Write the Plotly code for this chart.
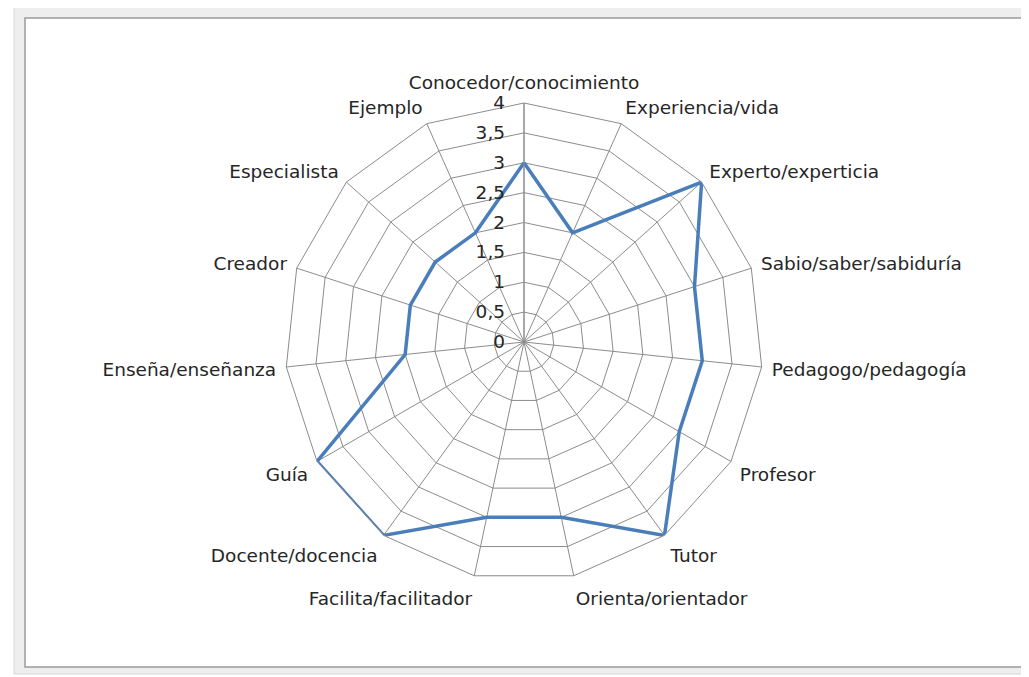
import plotly.graph_objects as go

W, H = 1029, 677
OFF = 8  # browser body margin shifts the whole figure by this many pixels

categories = [
    "Conocedor/conocimiento", "Experiencia/vida", "Experto/experticia",
    "Sabio/saber/sabiduría", "Pedagogo/pedagogía", "Profesor", "Tutor",
    "Orienta/orientador", "Facilita/facilitador", "Docente/docencia", "Guía",
    "Enseña/enseñanza", "Creador", "Especialista", "Ejemplo",
]
values = [3, 2, 4, 3, 3, 3, 4, 3, 3, 4, 4, 2, 2, 2, 2]

radial_ticks = [0, 0.5, 1, 1.5, 2, 2.5, 3, 3.5, 4]
radial_labels = ["0", "0,5", "1", "1,5", "2", "2,5", "3", "3,5", "4"]

LINE = "#4a7ebb"
GRID = "#8c8c8c"
FONT = dict(family="DejaVu Sans, sans-serif", size=18.5, color="#262626")

# polar centre / outer radius in page pixels
cx, cy, R = 524 - OFF, 342 - OFF, 239


def px(x):
    return (x - OFF) / W


def py(y):
    return 1 - (y - OFF) / H


fig = go.Figure()
fig.add_trace(go.Scatterpolar(
    r=values + values[:1],
    theta=categories + categories[:1],
    mode="lines",
    line=dict(color=LINE, width=3.5),
    showlegend=False,
))

# Excel-style chart frame
fig.add_shape(type="rect", xref="paper", yref="paper", layer="below",
              x0=px(14), x1=px(1040), y0=py(674), y1=py(6),
              fillcolor="#eeeeee", line=dict(color="#d6d6d6", width=1))
fig.add_shape(type="rect", xref="paper", yref="paper", layer="below",
              x0=px(25), x1=px(1022), y0=py(667), y1=py(18),
              fillcolor="white", line=dict(color="#9a9a9a", width=1.5))

fig.update_layout(
    width=W, height=H,
    margin=dict(l=0, r=0, t=0, b=0),
    paper_bgcolor="white",
    font=FONT,
    separators=",.",
    polar=dict(
        domain=dict(x=[(cx - R) / W, (cx + R) / W],
                    y=[1 - (cy + R) / H, 1 - (cy - R) / H]),
        bgcolor="rgba(0,0,0,0)",
        gridshape="linear",
        radialaxis=dict(
            range=[0, 4], tickvals=radial_ticks, ticktext=radial_labels,
            angle=90, tickangle=90, side="counterclockwise",
            showline=True, linecolor=GRID, linewidth=1,
            gridcolor=GRID, gridwidth=1,
            ticks="outside", ticklen=12, tickcolor="rgba(0,0,0,0)",
            tickfont=FONT,
        ),
        angularaxis=dict(
            rotation=90, direction="clockwise",
            showline=True, linecolor=GRID, linewidth=1,
            gridcolor=GRID, gridwidth=1,
            ticks="outside", ticklen=6, tickcolor="rgba(0,0,0,0)",
            tickfont=FONT,
        ),
    ),
)

fig.write_html("out.html")
